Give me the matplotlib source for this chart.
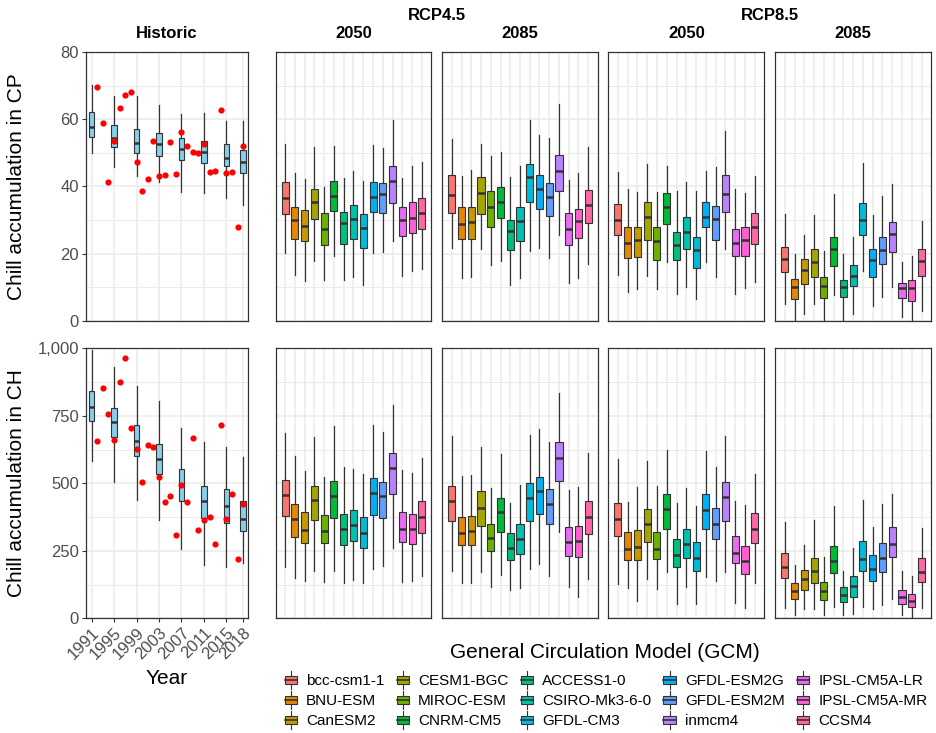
import matplotlib
matplotlib.use("Agg")
import matplotlib.pyplot as plt
from matplotlib.patches import Patch, Rectangle
from matplotlib.lines import Line2D
from matplotlib.legend_handler import HandlerBase

plt.rcParams['font.family'] = ['Liberation Sans', 'DejaVu Sans']

gcms = ['bcc-csm1-1', 'BNU-ESM', 'CanESM2', 'CESM1-BGC', 'MIROC-ESM',
        'CNRM-CM5', 'ACCESS1-0', 'CSIRO-Mk3-6-0', 'GFDL-CM3', 'GFDL-ESM2G',
        'GFDL-ESM2M', 'inmcm4', 'IPSL-CM5A-LR', 'IPSL-CM5A-MR', 'CCSM4']
gcm_colors = ['#F8766D', '#E58700', '#C99800', '#A3A500', '#6BB100',
              '#00BA38', '#00BF7D', '#00C0AF', '#00BCD8', '#00B0F6',
              '#619CFF', '#B983FF', '#E76BF3', '#FD61D1', '#FF67A4']

# boxes as (whisker low, q1, median, q3, whisker high)
hist_box_years = [1991, 1995, 1999, 2003, 2007, 2011, 2015, 2018]
hist_cp = [(50.1, 54.8, 57.8, 62.1, 70.4), (45.7, 51.9, 54.5, 58.3, 66.9),
           (43.1, 49.9, 53.1, 57.0, 66.9), (41.2, 49.2, 52.6, 55.9, 64.4),
           (38.5, 47.8, 51.2, 54.5, 61.5), (38.0, 47.0, 50.3, 53.6, 61.9),
           (36.7, 46.1, 48.5, 52.7, 59.6), (34.6, 43.9, 47.4, 50.8, 59.6)]
hist_ch = [(581, 732, 781, 843, 994), (504, 670, 726, 778, 932),
           (438, 600, 658, 715, 862), (364, 533, 589, 644, 805),
           (258, 433, 496, 554, 705), (198, 372, 435, 489, 654),
           (191, 352, 415, 478, 636), (206, 322, 368, 435, 599)]

obs_years = list(range(1992, 2019))
obs_cp = [69.6, 59.0, 41.4, 53.5, 63.3, 67.3, 68.2, 47.3, 38.8, 42.2, 53.6,
          43.2, 43.4, 53.4, 43.8, 56.1, 52.1, 50.4, 50.1, 52.7, 44.3, 44.7,
          62.9, 44.0, 44.4, 27.8, 52.0]
obs_ch = [658, 854, 757, 659, 874, 965, 704, 626, 504, 642, 635, 525, 430,
          453, 310, 495, 432, 669, 327, 364, 374, 274, 717, 369, 460, 221, 422]

cp45_2050 = [(20.3, 31.8, 36.5, 41.2, 52.7), (13.6, 24.5, 30.1, 33.8, 44.1),
             (11.7, 23.8, 28.3, 33.1, 42.3), (17.9, 30.2, 35.4, 39.3, 51.9),
             (12.1, 22.5, 27.4, 32.0, 39.8), (19.4, 32.6, 37.1, 41.5, 52.0),
             (12.0, 22.8, 29.1, 32.4, 42.6), (12.9, 24.5, 30.4, 34.4, 44.7),
             (10.5, 21.8, 27.6, 31.7, 41.5), (20.3, 32.5, 36.8, 41.2, 52.4),
             (20.6, 32.2, 37.7, 40.9, 51.6), (23.9, 35.0, 41.7, 46.0, 59.8),
             (13.3, 25.1, 29.9, 33.9, 42.6), (14.9, 26.0, 30.7, 35.3, 46.2),
             (15.3, 27.4, 32.2, 36.6, 47.2)]
cp45_2085 = [(21.6, 32.2, 37.6, 43.3, 54.2), (12.8, 24.3, 28.9, 33.8, 43.1),
             (13.1, 24.3, 29.4, 33.9, 44.9), (21.3, 31.9, 38.2, 42.8, 52.6),
             (16.6, 27.8, 33.8, 38.7, 49.1), (17.9, 30.5, 35.4, 39.9, 50.2),
             (10.7, 21.2, 26.6, 30.1, 42.8), (12.7, 23.9, 29.8, 33.9, 46.2),
             (20.8, 35.4, 42.9, 46.6, 59.7), (21.7, 33.2, 39.3, 43.5, 55.3),
             (18.8, 31.2, 36.8, 40.9, 54.4), (25.6, 38.7, 44.7, 49.3, 64.6),
             (11.2, 22.5, 27.4, 32.0, 41.8), (12.6, 24.7, 29.8, 33.3, 43.9),
             (16.9, 29.2, 34.6, 38.9, 51.8)]
cp85_2050 = [(13.5, 25.4, 29.9, 34.8, 44.3), (8.5, 18.6, 23.3, 28.0, 39.4),
             (9.5, 19.0, 24.0, 27.9, 38.5), (13.4, 24.2, 31.0, 35.5, 46.6),
             (9.4, 18.0, 23.8, 27.8, 38.3), (17.4, 28.9, 34.0, 38.1, 46.2),
             (7.9, 18.2, 22.6, 26.5, 38.6), (10.1, 21.3, 26.3, 30.8, 41.4),
             (6.5, 15.8, 21.1, 25.0, 38.8), (17.4, 27.8, 31.0, 35.3, 44.5),
             (13.1, 24.2, 30.2, 34.2, 45.9), (21.5, 32.5, 37.8, 43.5, 56.5),
             (8.1, 19.2, 23.3, 27.3, 39.2), (9.6, 19.3, 24.0, 28.0, 38.2),
             (11.6, 23.0, 28.0, 32.2, 43.0)]
cp85_2085 = [(5.0, 14.5, 18.4, 22.0, 31.8), (0.3, 6.4, 9.9, 12.3, 19.9),
             (2.0, 10.8, 15.1, 18.3, 25.6), (5.0, 13.1, 17.5, 21.4, 31.5),
             (0.3, 6.9, 10.4, 12.9, 20.8), (7.7, 16.3, 21.5, 24.8, 37.7),
             (0.3, 7.0, 10.0, 12.2, 19.9), (2.0, 10.3, 13.4, 16.5, 25.0),
             (14.9, 25.4, 30.1, 35.0, 47.1), (4.4, 13.1, 18.0, 21.4, 31.4),
             (7.0, 16.8, 21.2, 25.0, 37.2), (9.9, 20.4, 25.9, 29.3, 40.8),
             (1.0, 6.9, 9.6, 11.1, 17.5), (0.3, 6.0, 9.6, 12.1, 19.4),
             (3.0, 13.3, 17.7, 21.4, 29.6)]

ch45_2050 = [(191, 379, 457, 512, 685), (150, 301, 369, 425, 601),
             (137, 278, 327, 392, 546), (176, 363, 437, 489, 670),
             (134, 280, 325, 384, 525), (176, 372, 454, 510, 713),
             (132, 271, 330, 386, 560), (141, 286, 347, 401, 552),
             (132, 262, 316, 374, 533), (184, 384, 465, 518, 715),
             (192, 372, 454, 503, 690), (260, 460, 557, 611, 790),
             (134, 282, 332, 395, 550), (137, 277, 332, 387, 537),
             (155, 315, 377, 436, 592)]
ch45_2085 = [(176, 362, 433, 489, 675), (129, 271, 317, 374, 527),
             (129, 271, 324, 380, 530), (170, 343, 409, 471, 634),
             (116, 250, 296, 350, 481), (159, 320, 394, 445, 607),
             (106, 217, 260, 316, 428), (112, 239, 293, 350, 494),
             (184, 362, 446, 501, 678), (201, 387, 471, 522, 702),
             (155, 348, 422, 478, 653), (321, 508, 595, 654, 836),
             (115, 231, 284, 338, 477), (78, 228, 288, 342, 487),
             (145, 312, 374, 434, 613)]
ch85_2050 = [(127, 306, 367, 428, 589), (113, 217, 255, 318, 432),
             (64, 216, 265, 326, 487), (145, 283, 350, 405, 584),
             (107, 218, 256, 318, 489), (170, 332, 406, 462, 623),
             (54, 190, 234, 292, 427), (116, 224, 275, 331, 482),
             (52, 176, 223, 283, 415), (154, 331, 400, 460, 621),
             (139, 292, 351, 407, 562), (173, 360, 449, 503, 677),
             (57, 203, 243, 305, 434), (40, 165, 213, 269, 418),
             (132, 278, 330, 389, 534)]
ch85_2085 = [(38, 148, 191, 241, 358), (14, 70, 100, 131, 197),
             (33, 104, 144, 180, 271), (36, 129, 175, 225, 364),
             (11, 66, 101, 133, 226), (42, 166, 211, 268, 415),
             (11, 60, 86, 115, 176), (16, 79, 119, 157, 260),
             (43, 174, 221, 285, 437), (36, 137, 181, 233, 337),
             (48, 171, 223, 278, 422), (70, 226, 274, 337, 462),
             (11, 53, 80, 103, 174), (2, 41, 64, 89, 156),
             (38, 133, 172, 225, 335)]

panel_titles = ['2050', '2085', '2050', '2085']
scen_titles = ['RCP4.5', 'RCP8.5']
cp_panels = [cp45_2050, cp45_2085, cp85_2050, cp85_2085]
ch_panels = [ch45_2050, ch45_2085, ch85_2050, ch85_2085]

W, H = 937, 733
fig = plt.figure(figsize=(W / 100, H / 100), dpi=100)
edge = '#333333'
grid = '#EBEBEB'


def add_ax(x0, x1, y0, y1):
    return fig.add_axes([x0 / W, 1 - y1 / H, (x1 - x0) / W, (y1 - y0) / H])


def to_stats(boxes):
    return [dict(whislo=b[0], q1=b[1], med=b[2], q3=b[3], whishi=b[4], fliers=[])
            for b in boxes]


def draw_boxes(ax, boxes, pos, width, colors):
    r = ax.bxp(to_stats(boxes), positions=pos, widths=width, patch_artist=True,
               showfliers=False, showcaps=False, manage_ticks=False,
               boxprops=dict(edgecolor=edge, linewidth=0.8),
               medianprops=dict(color=edge, linewidth=1.8),
               whiskerprops=dict(color=edge, linewidth=0.9))
    for b, c in zip(r['boxes'], colors):
        b.set_facecolor(c)


def style(ax, ylim, major, minor):
    ax.set_ylim(ylim)
    ax.set_yticks(major)
    ax.set_yticks(minor, minor=True)
    ax.grid(True, which='major', color=grid, linewidth=1.1)
    ax.grid(True, which='minor', color=grid, linewidth=0.7)
    ax.set_axisbelow(True)
    for s in ax.spines.values():
        s.set_color(edge)
        s.set_linewidth(0.9)
    ax.tick_params(which='minor', length=0)
    ax.tick_params(which='major', length=3, width=0.8, color=edge,
                   labelsize=12, labelcolor='#4D4D4D', pad=2)


rows = [(52.3, 320.7), (348.3, 618.3)]
cols = [(275.7, 431.3), (442.3, 597.7), (608.3, 764.3), (775.3, 931.0)]
row_specs = [
    dict(hist=hist_cp, obs=obs_cp, panels=cp_panels, ylim=(0, 80),
         major=[0, 20, 40, 60, 80], minor=[10, 30, 50, 70],
         labels=['0', '20', '40', '60', '80'], ylabel='Chill accumulation in CP'),
    dict(hist=hist_ch, obs=obs_ch, panels=ch_panels, ylim=(0, 1000),
         major=[0, 250, 500, 750, 1000], minor=[125, 375, 625, 875],
         labels=['0', '250', '500', '750', '1,000'], ylabel='Chill accumulation in CH'),
]

for r, spec in enumerate(row_specs):
    y0, y1 = rows[r]
    ax = add_ax(86, 248, y0, y1)
    style(ax, spec['ylim'], spec['major'], spec['minor'])
    ax.set_yticklabels(spec['labels'])
    ax.set_xlim(1990.0, 2018.85)
    ax.set_xticks(hist_box_years)
    draw_boxes(ax, spec['hist'], hist_box_years, 1.0, ['skyblue'] * 8)
    ax.scatter(obs_years, spec['obs'], color='red', s=20, linewidths=0, zorder=4)
    if r == 0:
        ax.tick_params(axis='x', length=0, labelbottom=False)
    else:
        ax.set_xticklabels([str(y) for y in hist_box_years], rotation=45,
                           ha='right', va='top', rotation_mode='anchor')
    fig.text(17 / W, 1 - (y0 + y1) / 2 / H, spec['ylabel'], rotation=90,
             ha='center', va='center', fontsize=15)

    pos = list(range(1, 16))
    for c, (x0, x1) in enumerate(cols):
        ax = add_ax(x0, x1, y0, y1)
        style(ax, spec['ylim'], spec['major'], spec['minor'])
        ax.set_xlim(0.03, 15.97)
        ax.set_xticks(pos)
        ax.tick_params(which='both', length=0, labelbottom=False, labelleft=False)
        draw_boxes(ax, spec['panels'][c], pos, 0.72, gcm_colors)

# strip labels
fig.text(167 / W, 1 - 33 / H, 'Historic', ha='center', va='center',
         fontsize=12, fontweight='bold')
for c, (x0, x1) in enumerate(cols):
    fig.text((x0 + x1) / 2 / W, 1 - 33 / H, panel_titles[c], ha='center',
             va='center', fontsize=12, fontweight='bold')
for k, name in enumerate(scen_titles):
    xc = (cols[2 * k][0] + cols[2 * k + 1][1]) / 2
    fig.text(xc / W, 1 - 15 / H, name, ha='center', va='center',
             fontsize=12, fontweight='bold')

fig.text(167 / W, 1 - 678 / H, 'Year', ha='center', va='center', fontsize=15)
fig.text(605 / W, 1 - 652 / H, 'General Circulation Model (GCM)', ha='center',
         va='center', fontsize=15)


class BoxKey(HandlerBase):
    def create_artists(self, legend, orig_handle, xdescent, ydescent,
                       width, height, fontsize, trans):
        x0, y0 = -xdescent, -ydescent
        cx = x0 + width / 2
        whisk = Line2D([cx, cx], [y0 - 0.15 * height, y0 + 1.15 * height],
                       color=edge, linewidth=0.8, transform=trans)
        box = Rectangle((x0, y0 + 0.22 * height), width, 0.56 * height,
                        facecolor=orig_handle.get_facecolor(), edgecolor=edge,
                        linewidth=0.8, transform=trans)
        med = Line2D([x0, x0 + width], [y0 + height / 2] * 2, color=edge,
                     linewidth=1.2, transform=trans)
        return [whisk, box, med]


handles = [Patch(facecolor=c, edgecolor=edge) for c in gcm_colors]
fig.legend(handles, gcms, ncol=5, loc='upper center',
           bbox_to_anchor=(606 / W, 1 - 673 / H), frameon=False, fontsize=11,
           handler_map={Patch: BoxKey()}, handlelength=0.8, handleheight=1.05,
           handletextpad=0.6, labelspacing=0.3, columnspacing=0.8,
           borderpad=0, borderaxespad=0)

fig.savefig('out.png', dpi=100)
